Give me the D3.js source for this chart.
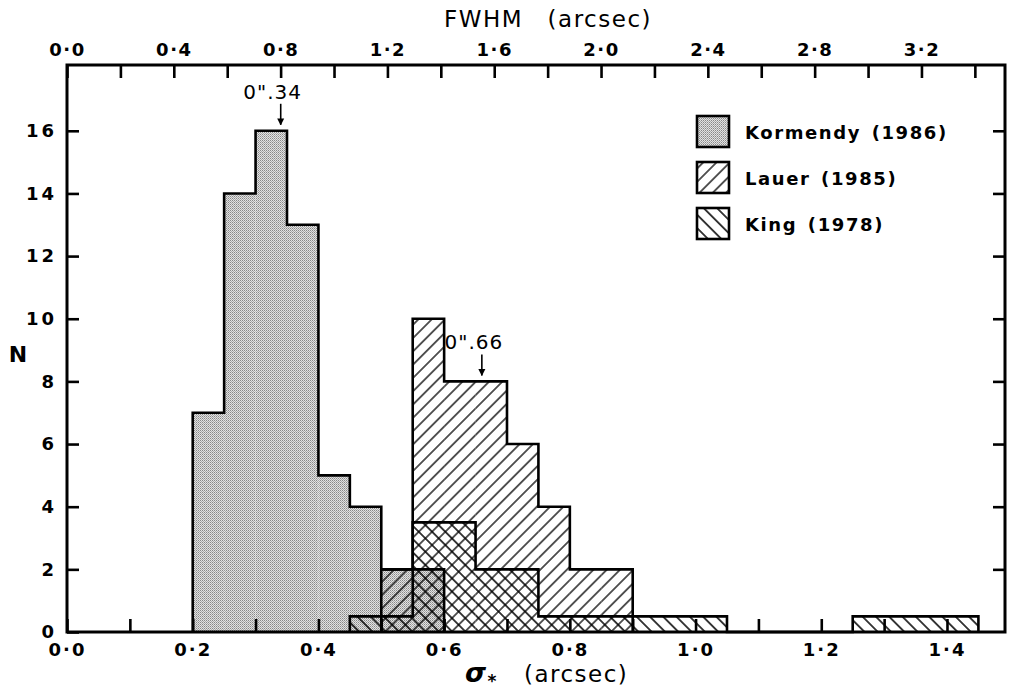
<!DOCTYPE html>
<html>
<head>
<meta charset="utf-8">
<script src="https://cdn.jsdelivr.net/npm/d3@7"></script>
<style>
  html, body { margin: 0; padding: 0; background: #fff; }
  svg { display: block; }
  text { font-family: "DejaVu Sans", sans-serif; fill: #000; }
</style>
</head>
<body>
<svg id="chart" width="1010" height="690"></svg>
<script>
// ---------------- data ----------------
const kormendyEdges  = [0.20, 0.25, 0.30, 0.35, 0.40, 0.45, 0.50, 0.55, 0.60];
const kormendyCounts = [7, 14, 16, 13, 5, 4, 2, 2];

const lauerEdges  = [0.50, 0.55, 0.60, 0.65, 0.70, 0.75, 0.80, 0.85, 0.90];
const lauerCounts = [2, 10, 8, 8, 6, 4, 2, 2];

const kingEdges  = [0.45, 0.55, 0.65, 0.75, 0.90, 1.05, 1.25, 1.45];
const kingCounts = [0.5, 3.5, 2, 0.5, 0.5, 0, 0.5];

const sigmaTicks      = [0.0, 0.1, 0.2, 0.3, 0.4, 0.5, 0.6, 0.7, 0.8, 0.9, 1.0, 1.1, 1.2, 1.3, 1.4];
const sigmaTickLabels = ["0·0", "", "0·2", "", "0·4", "", "0·6", "", "0·8", "", "1·0", "", "1·2", "", "1·4"];

const fwhmTicks      = [0.0, 0.2, 0.4, 0.6, 0.8, 1.0, 1.2, 1.4, 1.6, 1.8, 2.0, 2.2, 2.4, 2.6, 2.8, 3.0, 3.2, 3.4];
const fwhmTickLabels = ["0·0", "", "0·4", "", "0·8", "", "1·2", "", "1·6", "", "2·0", "", "2·4", "", "2·8", "", "3·2", ""];

const nTicks      = [0, 2, 4, 6, 8, 10, 12, 14, 16];
const nTickLabels = ["0", "2", "4", "6", "8", "10", "12", "14", "16"];

const seriesNames = ["Kormendy (1986)", "Lauer (1985)", "King (1978)"];
const medianValues = [0.34, 0.66];
const medianLabels = ["0\".34", "0\".66"];
const medianHeights = [16, 8];

const fwhmFactor = 2.354;

// ---------------- layout ----------------
const svg = d3.select("#chart");
const L = 67, R = 1005, T = 65, B = 632;
const sigmaMax = 1.4923;
const x = d3.scaleLinear().domain([0, sigmaMax]).range([L, R]);
const xTop = d3.scaleLinear().domain([0, sigmaMax * fwhmFactor]).range([L, R]);
const y = d3.scaleLinear().domain([0, 18.1]).range([B, T]);

// ---------------- patterns ----------------
const defs = svg.append("defs");
const stip = defs.append("pattern").attr("id", "stipple")
  .attr("patternUnits", "userSpaceOnUse").attr("width", 2).attr("height", 2);
stip.append("rect").attr("width", 2).attr("height", 2).attr("fill", "#e2e2e2");
stip.append("rect").attr("x", 0).attr("y", 0).attr("width", 1).attr("height", 1).attr("fill", "#888");
stip.append("rect").attr("x", 1).attr("y", 1).attr("width", 1).attr("height", 1).attr("fill", "#aaa");

function hatch(id, angle, sw) {
  const s = 9.4;
  const p = defs.append("pattern").attr("id", id)
    .attr("patternUnits", "userSpaceOnUse")
    .attr("width", s).attr("height", s)
    .attr("patternTransform", `rotate(${angle})`);
  p.append("line").attr("x1", s / 2).attr("y1", -1).attr("x2", s / 2).attr("y2", s + 1)
    .attr("stroke", "#000").attr("stroke-width", sw);
}
hatch("fwd", 45, 1.3);    // "/"
hatch("back", -45, 1.5);  // "\"

// ---------------- histograms ----------------
function bins(edges, counts) {
  return counts.map((c, i) => ({ x0: edges[i], x1: edges[i + 1], n: c }));
}
function outline(edges, counts) {
  const pts = [[edges[0], 0]];
  counts.forEach((c, i) => { pts.push([edges[i], c]); pts.push([edges[i + 1], c]); });
  pts.push([edges[edges.length - 1], 0]);
  return d3.line().x(d => x(d[0])).y(d => y(d[1]))(pts);
}
const series = [
  { edges: kormendyEdges, counts: kormendyCounts, fill: "url(#stipple)" },
  { edges: lauerEdges, counts: lauerCounts, fill: "url(#fwd)" },
  { edges: kingEdges, counts: kingCounts, fill: "url(#back)" }
];
series.forEach(s => {
  svg.append("g").selectAll("rect").data(bins(s.edges, s.counts).filter(d => d.n > 0)).join("rect")
    .attr("x", d => x(d.x0)).attr("width", d => x(d.x1) - x(d.x0))
    .attr("y", d => y(d.n)).attr("height", d => y(0) - y(d.n))
    .attr("fill", s.fill);
});
series.forEach(s => {
  svg.append("path").attr("d", outline(s.edges, s.counts))
    .attr("fill", "none").attr("stroke", "#000").attr("stroke-width", 2.6)
    .attr("stroke-linejoin", "miter");
});

// ---------------- axes ----------------
function styleAxis(g, fs) {
  g.select(".domain").remove();
  g.selectAll(".tick line").attr("stroke", "#000").attr("stroke-width", 2.6);
  g.selectAll(".tick text").attr("font-family", "DejaVu Sans, sans-serif")
    .attr("font-size", fs).attr("font-weight", "bold").attr("fill", "#000");
}
const gB = svg.append("g").attr("transform", `translate(0,${B})`)
  .call(d3.axisBottom(x).tickValues(sigmaTicks).tickSize(-13).tickPadding(11)
    .tickFormat((d, i) => sigmaTickLabels[i]));
styleAxis(gB, 18);
gB.selectAll(".tick text").attr("letter-spacing", "2px");

const gT = svg.append("g").attr("transform", `translate(0,${T})`)
  .call(d3.axisTop(xTop).tickValues(fwhmTicks).tickSize(-13).tickPadding(9)
    .tickFormat((d, i) => fwhmTickLabels[i]));
styleAxis(gT, 18);
gT.selectAll(".tick text").attr("letter-spacing", "1.5px");

const gL = svg.append("g").attr("transform", `translate(${L},0)`)
  .call(d3.axisLeft(y).tickValues(nTicks).tickSize(-12).tickPadding(10)
    .tickFormat((d, i) => nTickLabels[i]));
styleAxis(gL, 18);
gL.selectAll(".tick text").attr("letter-spacing", "3px");

const gR = svg.append("g").attr("transform", `translate(${R},0)`)
  .call(d3.axisRight(y).tickValues(nTicks.slice(1)).tickSize(-12).tickFormat(""));
styleAxis(gR, 18);

// frame
svg.append("rect").attr("x", L).attr("y", T).attr("width", R - L).attr("height", B - T)
  .attr("fill", "none").attr("stroke", "#000").attr("stroke-width", 3);

// ---------------- titles ----------------
svg.append("text").attr("x", 548).attr("y", 27).attr("text-anchor", "middle")
  .attr("font-size", 23).attr("letter-spacing", "1.5px")
  .text("FWHM\u2003(arcsec)");
svg.append("text").attr("x", 18).attr("y", 362).attr("text-anchor", "middle")
  .attr("font-size", 22).attr("font-weight", "bold").text("N");
const xt = svg.append("text").attr("x", 465).attr("y", 682).attr("font-size", 23).attr("letter-spacing", "1.5px");
xt.append("tspan").attr("font-style", "italic").attr("font-weight", "bold").attr("font-size", 27).text("\u03c3");
xt.append("tspan").attr("font-size", 17).attr("dy", 5).attr("font-weight", "bold").text("*");
xt.append("tspan").attr("dy", -5).attr("dx", 26).text("(arcsec)");

// ---------------- median markers ----------------
defs.append("marker").attr("id", "arrow").attr("viewBox", "0 0 10 10")
  .attr("refX", 9).attr("refY", 5).attr("markerWidth", 7).attr("markerHeight", 8)
  .attr("markerUnits", "userSpaceOnUse").attr("orient", "auto")
  .append("path").attr("d", "M0,0 L10,5 L0,10 Z").attr("fill", "#000");
medianValues.forEach((m, i) => {
  const top = y(medianHeights[i]);
  svg.append("line").attr("x1", x(m)).attr("x2", x(m))
    .attr("y1", top - 27).attr("y2", top - 6)
    .attr("stroke", "#000").attr("stroke-width", 1.6).attr("marker-end", "url(#arrow)");
  svg.append("text").attr("x", x(m) - 8).attr("y", top - 32).attr("text-anchor", "middle")
    .attr("font-size", 20).attr("letter-spacing", "1px").text(medianLabels[i]);
});

// ---------------- legend ----------------
const legFills = ["url(#stipple)", "url(#fwd)", "url(#back)"];
const lg = svg.append("g").selectAll("g").data(seriesNames).join("g")
  .attr("transform", (d, i) => `translate(697,${116 + i * 46})`);
lg.append("rect").attr("width", 32).attr("height", 31)
  .attr("fill", (d, i) => legFills[i]).attr("stroke", "#000").attr("stroke-width", 2.6);
lg.append("text").attr("x", 48).attr("y", 23).attr("font-size", 18)
  .attr("font-weight", "bold").attr("letter-spacing", "1.6px")
  .text(d => d.replace(" ", "\u2002"));
</script>
</body>
</html>
